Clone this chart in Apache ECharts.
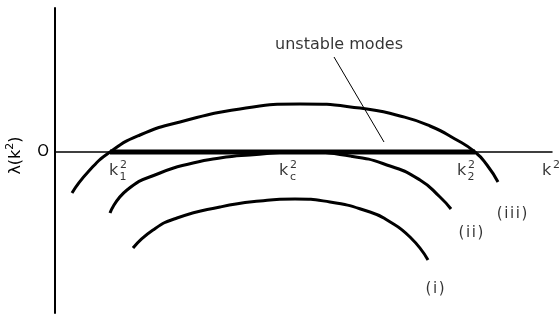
<!DOCTYPE html>
<html>
<head>
<meta charset="utf-8">
<script src="https://cdn.jsdelivr.net/npm/echarts@6/dist/echarts.min.js"></script>
<style>
  html, body { margin: 0; padding: 0; background: #fff; }
  #chart { width: 560px; height: 322px; }
</style>
</head>
<body>
<div id="chart"></div>
<script>
// Growth rate λ(k²) against wavenumber k² for three parameter values.
// Points are [k², λ] pairs.
const curveI = [
  [0.78, -0.96], [0.98, -0.78], [1.22, -0.66], [1.65, -0.55], [2.05, -0.49],
  [2.40, -0.47], [2.75, -0.50], [3.15, -0.60], [3.32, -0.68], [3.55, -0.85],
  [3.73, -1.08]
];
const curveII = [
  [0.55, -0.61], [0.72, -0.38], [1.05, -0.21], [1.38, -0.11], [1.65, -0.06],
  [1.95, -0.03], [2.45, 0.00], [2.95, -0.04], [3.35, -0.14], [3.65, -0.28],
  [3.85, -0.45], [3.96, -0.57]
];
const curveIII = [
  [0.17, -0.41], [0.33, -0.20], [0.55, 0.00], [0.85, 0.17], [1.25, 0.30],
  [1.85, 0.43], [2.45, 0.48], [3.05, 0.44], [3.45, 0.36], [3.75, 0.26],
  [4.00, 0.13], [4.20, 0.00], [4.32, -0.13], [4.43, -0.30]
];

// Band of unstable wavenumbers between k1² and k2²
const k1sq = 0.55;
const k2sq = 4.20;
const unstableBand = [[k1sq, 0], [k2sq, 0]];

// Pointer from the "unstable modes" note down to the band
const pointerLine = [[2.79, 0.95], [3.29, 0.10]];

// Wavenumber markers under the axis: where the letter sits, and its subscript
const kMarks = [
  { k: 0.55, sub: '1' },
  { k: 2.25, sub: 'c' },
  { k: 4.03, sub: '2' },
  { k: 4.88, sub: '' }
];
const kMarkLevel = -0.19;

// Curve tags
const curveTags = [
  { text: '(iii)', at: [4.57, -0.62] },
  { text: '(ii)',  at: [4.16, -0.81] },
  { text: '(i)',   at: [3.80, -1.37] }
];
const noteText = 'unstable modes';
const noteAt = [2.84, 1.07];

const FONT = 'DejaVu Sans';
const INK = '#000';

function curve(data) {
  return {
    type: 'line', data: data, smooth: 0.55, showSymbol: false, symbol: 'none',
    silent: true, lineStyle: { color: INK, width: 3 }, z: 3
  };
}

function labelStyle(extra) {
  return Object.assign({
    show: true, position: [0, 0], color: INK, fontFamily: FONT,
    verticalAlign: 'middle', align: 'center', textBorderWidth: 0
  }, extra);
}

// text annotations drawn as zero-size scatter points with labels
const textItems = [];
kMarks.forEach(function (m) {
  textItems.push({
    value: [m.k, kMarkLevel],
    label: labelStyle({ formatter: 'k', fontSize: 16, align: 'left', offset: [-1, 0] })
  });
  textItems.push({
    value: [m.k, kMarkLevel],
    label: labelStyle({ formatter: '2', fontSize: 11, offset: [13.5, -6] })
  });
  if (m.sub) {
    textItems.push({
      value: [m.k, kMarkLevel],
      label: labelStyle({ formatter: m.sub, fontSize: 11, offset: [13, 6.5] })
    });
  }
});
curveTags.forEach(function (t) {
  const rich = t.text.split('').map(function (c) { return '{r|' + c + '}'; }).join('');
  textItems.push({
    value: t.at,
    label: labelStyle({
      formatter: rich,
      rich: { r: { fontFamily: FONT, fontSize: 15, color: INK, padding: [0, 0.8] } }
    })
  });
});
textItems.push({
  value: noteAt,
  label: labelStyle({ formatter: noteText, fontSize: 16 })
});

const chart = echarts.init(document.getElementById('chart'), null, { renderer: 'canvas' });
chart.setOption({
  animation: false,
  backgroundColor: '#fff',
  grid: { left: 55, right: 8, top: 8, bottom: 9, containLabel: false, outerBoundsMode: 'none' },
  xAxis: {
    type: 'value', min: 0, max: 4.97,
    axisLine: { show: true, onZero: true, lineStyle: { color: INK, width: 1.5 } },
    axisTick: { show: false },
    axisLabel: { show: false },
    splitLine: { show: false }
  },
  yAxis: {
    type: 'value', min: -1.61, max: 1.44,
    name: '{a|λ(k}{s|2}{a|)}',
    nameLocation: 'middle',
    nameRotate: 90,
    nameGap: 29,
    nameTextStyle: {
      padding: [0, 0, 0, 10],
      rich: {
        a: { fontFamily: FONT, fontSize: 16, color: INK, lineHeight: 21 },
        s: { fontFamily: FONT, fontSize: 11, color: INK, lineHeight: 12, verticalAlign: 'top' }
      }
    },
    axisLine: { show: true, lineStyle: { color: INK, width: 2 } },
    axisTick: { show: false },
    axisLabel: {
      customValues: [0],
      formatter: function () { return 'O'; },
      fontFamily: FONT, fontSize: 15, color: INK, margin: 6
    },
    splitLine: { show: false }
  },
  series: [
    curve(curveI),
    curve(curveII),
    curve(curveIII),
    {
      type: 'line', data: unstableBand, showSymbol: false, symbol: 'none', silent: true,
      lineStyle: { color: INK, width: 5 }, z: 4
    },
    {
      type: 'line', data: pointerLine, showSymbol: false, symbol: 'none', silent: true,
      lineStyle: { color: INK, width: 1 }, z: 2
    },
    {
      type: 'scatter', data: textItems, symbolSize: 0, silent: true, z: 5,
      label: { show: true, color: INK, fontFamily: FONT }
    }
  ]
});
</script>
</body>
</html>
